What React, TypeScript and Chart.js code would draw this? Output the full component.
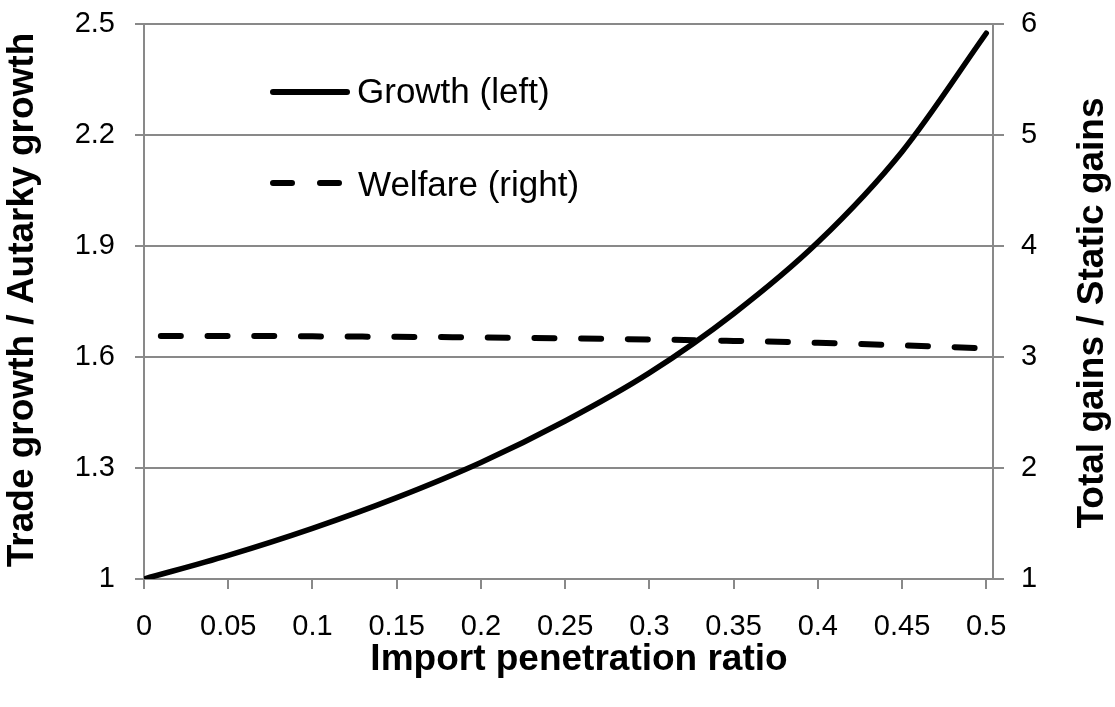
import React, { useEffect, useRef } from "react";
import { Chart, registerables } from "chart.js";

Chart.register(...registerables);

// ---- data ----
const importRatio = [0, 0.05, 0.1, 0.15, 0.2, 0.25, 0.3, 0.35, 0.4, 0.45, 0.5];
const growth = [1.0, 1.064, 1.137, 1.22, 1.315, 1.427, 1.557, 1.717, 1.91, 2.155, 2.475];
const welfareRatio = [0.01, 0.05, 0.1, 0.15, 0.2, 0.25, 0.3, 0.35, 0.4, 0.45, 0.5];
const welfare = [3.19, 3.19, 3.186, 3.182, 3.176, 3.168, 3.158, 3.145, 3.128, 3.105, 3.078];

const xTicks = [0, 0.05, 0.1, 0.15, 0.2, 0.25, 0.3, 0.35, 0.4, 0.45, 0.5];
const leftTicks = [1, 1.3, 1.6, 1.9, 2.2, 2.5];
const rightTicks = [1, 2, 3, 4, 5, 6];

const xTitle = "Import penetration ratio";
const leftTitle = "Trade growth / Autarky growth";
const rightTitle = "Total gains / Static gains";
const legendLabels = ["Growth (left)", "Welfare (right)"];

const FONT = "'Liberation Sans', Arial, sans-serif";
const GRID = "#898989";

const fmt = (v: number) => String(parseFloat(Number(v).toFixed(2)));

const overlayPlugin = {
  id: "overlay",
  afterDraw(chart: any) {
    const ctx = chart.ctx as CanvasRenderingContext2D;
    ctx.save();
    ctx.fillStyle = "#000";
    ctx.strokeStyle = "#000";

    // axis titles
    ctx.font = `bold 37px ${FONT}`;
    ctx.textAlign = "center";
    ctx.textBaseline = "alphabetic";
    ctx.fillText(xTitle, 579, 670);

    ctx.save();
    ctx.translate(33, 300);
    ctx.rotate(-Math.PI / 2);
    ctx.fillText(leftTitle, 0, 0);
    ctx.restore();

    ctx.save();
    ctx.translate(1103, 313);
    ctx.rotate(-Math.PI / 2);
    ctx.fillText(rightTitle, 0, 0);
    ctx.restore();

    // legend
    ctx.lineWidth = 6;
    ctx.lineCap = "round";
    ctx.setLineDash([]);
    ctx.beginPath();
    ctx.moveTo(273, 92);
    ctx.lineTo(347, 92);
    ctx.stroke();

    ctx.setLineDash([19, 28]);
    ctx.beginPath();
    ctx.moveTo(273, 183);
    ctx.lineTo(339, 183);
    ctx.stroke();
    ctx.setLineDash([]);

    ctx.font = `35px ${FONT}`;
    ctx.textAlign = "left";
    ctx.fillText(legendLabels[0], 357, 103);
    ctx.fillText(legendLabels[1], 358, 196);
    ctx.restore();
  },
};

export default function App() {
  const ref = useRef<HTMLCanvasElement | null>(null);

  useEffect(() => {
    if (!ref.current) return;
    const fitY = (w: number) => (s: any) => {
      s.width = w;
      s.paddingTop = 0;
      s.paddingBottom = 0;
    };
    const chart = new Chart(ref.current, {
      type: "line",
      data: {
        datasets: [
          {
            label: legendLabels[0],
            data: importRatio.map((x, i) => ({ x, y: growth[i] })),
            yAxisID: "y",
            borderColor: "#000",
            borderWidth: 5.5,
            pointRadius: 0,
            cubicInterpolationMode: "monotone",
            borderCapStyle: "round",
            fill: false,
          },
          {
            label: legendLabels[1],
            data: welfareRatio.map((x, i) => ({ x, y: welfare[i] })),
            yAxisID: "y2",
            borderColor: "#000",
            borderWidth: 6,
            borderDash: [20, 26.7],
            borderCapStyle: "round",
            pointRadius: 0,
            cubicInterpolationMode: "monotone",
            fill: false,
          },
        ],
      },
      options: {
        responsive: false,
        animation: false,
        layout: { padding: { top: 24, left: 0, right: 0, bottom: 0 } },
        plugins: { legend: { display: false }, tooltip: { enabled: false } },
        scales: {
          x: {
            type: "linear",
            min: 0,
            max: 0.504,
            afterBuildTicks: (s: any) => {
              s.ticks = xTicks.map((v) => ({ value: v }));
            },
            afterFit: (s: any) => {
              s.height = 128;
              s.paddingLeft = 0;
              s.paddingRight = 0;
            },
            ticks: {
              autoSkip: false,
              maxRotation: 0,
              padding: 21,
              color: "#000",
              font: { family: FONT, size: 29 },
              callback: (v: any) => fmt(v),
            },
            grid: {
              drawOnChartArea: false,
              drawTicks: true,
              tickLength: 10,
              color: GRID,
              lineWidth: 2,
            },
            border: { display: true, color: GRID, width: 2 },
          },
          y: {
            type: "linear",
            position: "left",
            min: 1,
            max: 2.5,
            afterBuildTicks: (s: any) => {
              s.ticks = leftTicks.map((v) => ({ value: v }));
            },
            afterFit: fitY(144),
            ticks: {
              padding: 20,
              color: "#000",
              font: { family: FONT, size: 29 },
              callback: (v: any) => fmt(v),
            },
            grid: {
              drawOnChartArea: true,
              drawTicks: true,
              tickLength: 9,
              color: GRID,
              lineWidth: 2,
            },
            border: { display: true, color: GRID, width: 2 },
          },
          y2: {
            type: "linear",
            position: "right",
            min: 1,
            max: 6,
            afterBuildTicks: (s: any) => {
              s.ticks = rightTicks.map((v) => ({ value: v }));
            },
            afterFit: fitY(122),
            ticks: {
              padding: 17,
              color: "#000",
              font: { family: FONT, size: 29 },
              callback: (v: any) => fmt(v),
            },
            grid: {
              drawOnChartArea: false,
              drawTicks: true,
              tickLength: 11,
              color: GRID,
              lineWidth: 2,
            },
            border: { display: true, color: GRID, width: 2 },
          },
        },
      } as any,
      plugins: [overlayPlugin],
    });
    return () => chart.destroy();
  }, []);

  return (
    <div style={{ position: "absolute", left: 0, top: 0, width: 1115, height: 707, background: "#fff" }}>
      <canvas ref={ref} width={1115} height={707} style={{ display: "block" }} />
    </div>
  );
}
